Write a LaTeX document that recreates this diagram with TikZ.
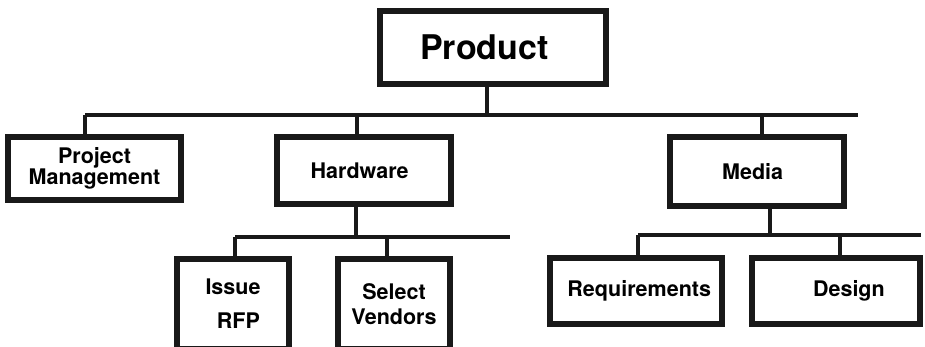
\documentclass[tikz,border=0pt]{standalone}
\usepackage{fontspec}
\setmainfont{TeX Gyre Heros}
\usepackage{xcolor}
\usepackage{tikz}

\begin{document}
\begin{tikzpicture}[x=1pt, y=-1pt,
    box/.style={draw=black!90, line width=6.5pt, fill=white, font=\bfseries\fontsize{21.5}{20}\selectfont, align=center, inner sep=0pt},
    link/.style={draw=black!90, line width=3.2pt}]
  \useasboundingbox (0,0) rectangle (925,347);
  % top level
  \node[box, minimum width=226pt, minimum height=73pt, font=\bfseries\fontsize{34}{40}\selectfont] (prod) at (493,47.5) {Product\hspace{0.5em}};
  \node[box, minimum width=173pt, minimum height=63pt] (pm) at (94.5,168.5) {Project\hspace{0.6em}\\Management};
  \node[box, minimum width=174pt, minimum height=67pt] (hw) at (364,170.5) {Hardware\hspace{0.4em}};
  \node[box, minimum width=174pt, minimum height=69pt] (media) at (757,171.5) {Media\hspace{0.4em}};
  \coordinate (busL) at (85,115);
  \coordinate (busR) at (858,115);
  \draw[link] (busL) -- (busR);
  \draw[link] ([xshift=-6pt]prod.south) -- ([xshift=-6pt]prod.south |- busL);
  \draw[link] ([xshift=-9.5pt]pm.north) -- ([xshift=-9.5pt]pm.north |- busL);
  \draw[link] ([xshift=-7pt]hw.north) -- ([xshift=-7pt]hw.north |- busL);
  \draw[link] ([xshift=5pt]media.north) -- ([xshift=5pt]media.north |- busL);
  % hardware branch
  \node[box, minimum width=112pt, minimum height=90pt, font=\bfseries\fontsize{21.5}{34}\selectfont] (issue) at (233,304) {Issue\\\hspace{0.5em}RFP};
  \node[box, minimum width=112pt, minimum height=90pt, font=\bfseries\fontsize{21.5}{25}\selectfont] (sel) at (394,304) {Select\\Vendors};
  \coordinate (hwL) at (235,237);
  \coordinate (hwR) at (510,237);
  \draw[link] (hwL) -- (hwR);
  \draw[link] ([xshift=-8pt]hw.south) -- ([xshift=-8pt]hw.south |- hwL);
  \draw[link] ([xshift=2pt]issue.north) -- ([xshift=2pt]issue.north |- hwL);
  \draw[link] ([xshift=-7pt]sel.north) -- ([xshift=-7pt]sel.north |- hwL);
  % media branch
  \node[box, minimum width=172pt, minimum height=66pt] (req) at (636,291) {\hspace{0.3em}Requirements};
  \node[box, minimum width=168pt, minimum height=66pt] (design) at (836,291) {\hspace{1.2em}Design};
  \coordinate (mdL) at (638,235);
  \coordinate (mdR) at (921,235);
  \draw[link] (mdL) -- (mdR);
  \draw[link] ([xshift=13pt]media.south) -- ([xshift=13pt]media.south |- mdL);
  \draw[link] ([xshift=2pt]req.north) -- ([xshift=2pt]req.north |- mdL);
  \draw[link] ([xshift=4pt]design.north) -- ([xshift=4pt]design.north |- mdL);
\end{tikzpicture}
\end{document}
